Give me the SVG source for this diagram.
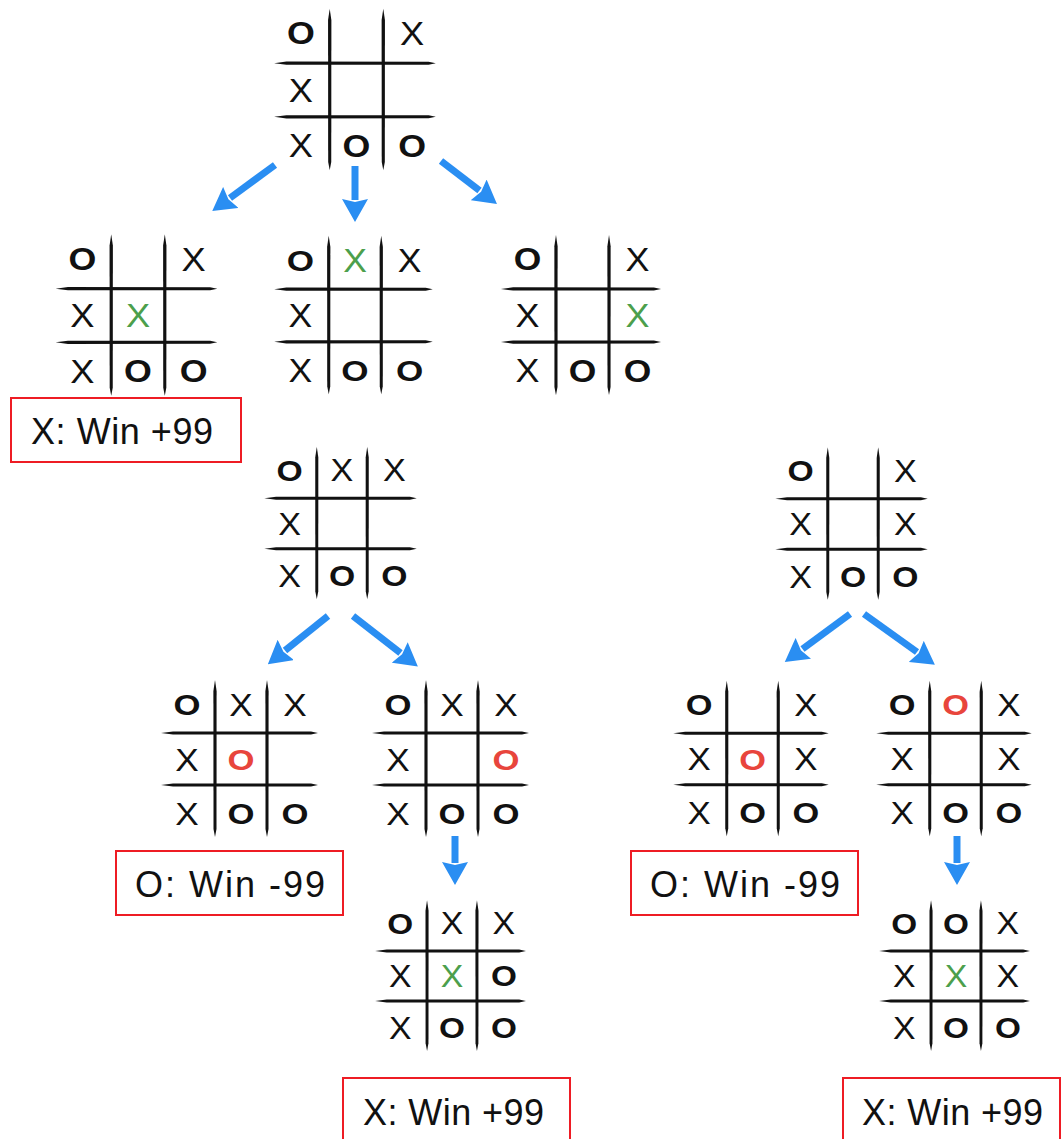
<svg xmlns="http://www.w3.org/2000/svg" width="1062" height="1139" viewBox="0 0 1062 1139">
<style>
.o{font-family:"Liberation Sans",Arial,sans-serif;font-weight:bold;font-size:31px;text-anchor:middle;fill:#111}
.x{font-family:"Liberation Sans",Arial,sans-serif;font-size:32px;text-anchor:middle;fill:#111}
.g{fill:#4c9f4c}
.r{fill:#e8453c}
.lbl{font-family:"Liberation Sans",Arial,sans-serif;font-size:36px;fill:#111}
.box{fill:#fff;stroke:#ee1c24;stroke-width:2}
.arr{stroke:#2a8ef2;stroke-width:7;fill:none;marker-end:url(#ah)}
</style>
<defs>
<marker id="ah" markerUnits="userSpaceOnUse" viewBox="0 0 23 26" markerWidth="23" markerHeight="26" refX="1" refY="13" orient="auto">
<path d="M0,0 L23,13 L0,26 L3,13 Z" fill="#2a8ef2"/>
</marker>
<g id="grid" fill="#111">
<path d="M-80,-26 L-68,-27.6 L70,-27.5 L77,-26 L70,-24.5 L-68,-24.4 Z"/>
<path d="M-80,26 L-68,24.4 L70,24.5 L77,26 L70,27.5 L-68,27.6 Z"/>
<path d="M-26,-79 L-27.6,-68 L-27.5,70 L-26,78 L-24.5,70 L-24.4,-68 Z"/>
<path d="M26,-79 L24.4,-68 L24.5,70 L26,78 L27.5,70 L27.6,-68 Z"/>
</g>
</defs>
<rect width="1062" height="1139" fill="#fff"/>

<g id="connectors">
<line class="arr" x1="275" y1="165" x2="230" y2="198"/>
<line class="arr" x1="355" y1="166" x2="355" y2="200"/>
<line class="arr" x1="441" y1="161" x2="479.5" y2="190.5"/>
<line class="arr" x1="328" y1="616" x2="285" y2="650.5"/>
<line class="arr" x1="353" y1="616" x2="400.5" y2="653"/>
<line class="arr" x1="455" y1="836" x2="455" y2="863"/>
<line class="arr" x1="850" y1="614" x2="802.5" y2="649"/>
<line class="arr" x1="864" y1="614" x2="917" y2="652"/>
<line class="arr" x1="957" y1="836" x2="957" y2="863"/>
</g>

<g id="board-a" transform="translate(356.5,90) scale(1.03)">
<use href="#grid"/>
<text class="o" transform="translate(-54,-55) scale(1.12,0.97)" y="11.1">O</text><text class="x" transform="translate(54,-55) scale(1.1,1)" y="11.5">X</text>
<text class="x" transform="translate(-54,0) scale(1.1,1)" y="11.5">X</text>
<text class="x" transform="translate(-54,54) scale(1.1,1)" y="11.5">X</text><text class="o" transform="translate(0,54) scale(1.12,0.97)" y="11.1">O</text><text class="o" transform="translate(54,54) scale(1.12,0.97)" y="11.1">O</text>
</g>

<g id="board-b" transform="translate(138,315.5) scale(1.03)">
<use href="#grid"/>
<text class="o" transform="translate(-54,-55) scale(1.12,0.97)" y="11.1">O</text><text class="x" transform="translate(54,-55) scale(1.1,1)" y="11.5">X</text>
<text class="x" transform="translate(-54,0) scale(1.1,1)" y="11.5">X</text><text class="x g" transform="translate(0,0) scale(1.1,1)" y="11.5">X</text>
<text class="x" transform="translate(-54,54) scale(1.1,1)" y="11.5">X</text><text class="o" transform="translate(0,54) scale(1.12,0.97)" y="11.1">O</text><text class="o" transform="translate(54,54) scale(1.12,0.97)" y="11.1">O</text>
</g>

<g id="board-c" transform="translate(355,315.5) scale(1.01)">
<use href="#grid"/>
<text class="o" transform="translate(-54,-55) scale(1.12,0.97)" y="11.1">O</text><text class="x g" transform="translate(0,-55) scale(1.1,1)" y="11.5">X</text><text class="x" transform="translate(54,-55) scale(1.1,1)" y="11.5">X</text>
<text class="x" transform="translate(-54,0) scale(1.1,1)" y="11.5">X</text>
<text class="x" transform="translate(-54,54) scale(1.1,1)" y="11.5">X</text><text class="o" transform="translate(0,54) scale(1.12,0.97)" y="11.1">O</text><text class="o" transform="translate(54,54) scale(1.12,0.97)" y="11.1">O</text>
</g>

<g id="board-d" transform="translate(582.5,315.5) scale(1.02)">
<use href="#grid"/>
<text class="o" transform="translate(-54,-55) scale(1.12,0.97)" y="11.1">O</text><text class="x" transform="translate(54,-55) scale(1.1,1)" y="11.5">X</text>
<text class="x" transform="translate(-54,0) scale(1.1,1)" y="11.5">X</text><text class="x g" transform="translate(54,0) scale(1.1,1)" y="11.5">X</text>
<text class="x" transform="translate(-54,54) scale(1.1,1)" y="11.5">X</text><text class="o" transform="translate(0,54) scale(1.12,0.97)" y="11.1">O</text><text class="o" transform="translate(54,54) scale(1.12,0.97)" y="11.1">O</text>
</g>

<g id="board-e" transform="translate(342,523.5) scale(0.97)">
<use href="#grid"/>
<text class="o" transform="translate(-54,-55) scale(1.12,0.97)" y="11.1">O</text><text class="x" transform="translate(0,-55) scale(1.1,1)" y="11.5">X</text><text class="x" transform="translate(54,-55) scale(1.1,1)" y="11.5">X</text>
<text class="x" transform="translate(-54,0) scale(1.1,1)" y="11.5">X</text>
<text class="x" transform="translate(-54,54) scale(1.1,1)" y="11.5">X</text><text class="o" transform="translate(0,54) scale(1.12,0.97)" y="11.1">O</text><text class="o" transform="translate(54,54) scale(1.12,0.97)" y="11.1">O</text>
</g>

<g id="board-f" transform="translate(853,524) scale(0.97)">
<use href="#grid"/>
<text class="o" transform="translate(-54,-55) scale(1.12,0.97)" y="11.1">O</text><text class="x" transform="translate(54,-55) scale(1.1,1)" y="11.5">X</text>
<text class="x" transform="translate(-54,0) scale(1.1,1)" y="11.5">X</text><text class="x" transform="translate(54,0) scale(1.1,1)" y="11.5">X</text>
<text class="x" transform="translate(-54,54) scale(1.1,1)" y="11.5">X</text><text class="o" transform="translate(0,54) scale(1.12,0.97)" y="11.1">O</text><text class="o" transform="translate(54,54) scale(1.12,0.97)" y="11.1">O</text>
</g>

<g id="board-g" transform="translate(241,759)">
<use href="#grid"/>
<text class="o" transform="translate(-54,-55) scale(1.12,0.97)" y="11.1">O</text><text class="x" transform="translate(0,-55) scale(1.1,1)" y="11.5">X</text><text class="x" transform="translate(54,-55) scale(1.1,1)" y="11.5">X</text>
<text class="x" transform="translate(-54,0) scale(1.1,1)" y="11.5">X</text><text class="o r" transform="translate(0,0) scale(1.12,0.97)" y="11.1">O</text>
<text class="x" transform="translate(-54,54) scale(1.1,1)" y="11.5">X</text><text class="o" transform="translate(0,54) scale(1.12,0.97)" y="11.1">O</text><text class="o" transform="translate(54,54) scale(1.12,0.97)" y="11.1">O</text>
</g>

<g id="board-h" transform="translate(452,759)">
<use href="#grid"/>
<text class="o" transform="translate(-54,-55) scale(1.12,0.97)" y="11.1">O</text><text class="x" transform="translate(0,-55) scale(1.1,1)" y="11.5">X</text><text class="x" transform="translate(54,-55) scale(1.1,1)" y="11.5">X</text>
<text class="x" transform="translate(-54,0) scale(1.1,1)" y="11.5">X</text><text class="o r" transform="translate(54,0) scale(1.12,0.97)" y="11.1">O</text>
<text class="x" transform="translate(-54,54) scale(1.1,1)" y="11.5">X</text><text class="o" transform="translate(0,54) scale(1.12,0.97)" y="11.1">O</text><text class="o" transform="translate(54,54) scale(1.12,0.97)" y="11.1">O</text>
</g>

<g id="board-i" transform="translate(752.5,759) scale(0.99)">
<use href="#grid"/>
<text class="o" transform="translate(-54,-55) scale(1.12,0.97)" y="11.1">O</text><text class="x" transform="translate(54,-55) scale(1.1,1)" y="11.5">X</text>
<text class="x" transform="translate(-54,0) scale(1.1,1)" y="11.5">X</text><text class="o r" transform="translate(0,0) scale(1.12,0.97)" y="11.1">O</text><text class="x" transform="translate(54,0) scale(1.1,1)" y="11.5">X</text>
<text class="x" transform="translate(-54,54) scale(1.1,1)" y="11.5">X</text><text class="o" transform="translate(0,54) scale(1.12,0.97)" y="11.1">O</text><text class="o" transform="translate(54,54) scale(1.12,0.97)" y="11.1">O</text>
</g>

<g id="board-j" transform="translate(955.5,759) scale(0.99)">
<use href="#grid"/>
<text class="o" transform="translate(-54,-55) scale(1.12,0.97)" y="11.1">O</text><text class="o r" transform="translate(0,-55) scale(1.12,0.97)" y="11.1">O</text><text class="x" transform="translate(54,-55) scale(1.1,1)" y="11.5">X</text>
<text class="x" transform="translate(-54,0) scale(1.1,1)" y="11.5">X</text><text class="x" transform="translate(54,0) scale(1.1,1)" y="11.5">X</text>
<text class="x" transform="translate(-54,54) scale(1.1,1)" y="11.5">X</text><text class="o" transform="translate(0,54) scale(1.12,0.97)" y="11.1">O</text><text class="o" transform="translate(54,54) scale(1.12,0.97)" y="11.1">O</text>
</g>

<g id="board-k" transform="translate(452,976) scale(0.96)">
<use href="#grid"/>
<text class="o" transform="translate(-54,-55) scale(1.12,0.97)" y="11.1">O</text><text class="x" transform="translate(0,-55) scale(1.1,1)" y="11.5">X</text><text class="x" transform="translate(54,-55) scale(1.1,1)" y="11.5">X</text>
<text class="x" transform="translate(-54,0) scale(1.1,1)" y="11.5">X</text><text class="x g" transform="translate(0,0) scale(1.1,1)" y="11.5">X</text><text class="o" transform="translate(54,0) scale(1.12,0.97)" y="11.1">O</text>
<text class="x" transform="translate(-54,54) scale(1.1,1)" y="11.5">X</text><text class="o" transform="translate(0,54) scale(1.12,0.97)" y="11.1">O</text><text class="o" transform="translate(54,54) scale(1.12,0.97)" y="11.1">O</text>
</g>

<g id="board-l" transform="translate(956,976) scale(0.96)">
<use href="#grid"/>
<text class="o" transform="translate(-54,-55) scale(1.12,0.97)" y="11.1">O</text><text class="o" transform="translate(0,-55) scale(1.12,0.97)" y="11.1">O</text><text class="x" transform="translate(54,-55) scale(1.1,1)" y="11.5">X</text>
<text class="x" transform="translate(-54,0) scale(1.1,1)" y="11.5">X</text><text class="x g" transform="translate(0,0) scale(1.1,1)" y="11.5">X</text><text class="x" transform="translate(54,0) scale(1.1,1)" y="11.5">X</text>
<text class="x" transform="translate(-54,54) scale(1.1,1)" y="11.5">X</text><text class="o" transform="translate(0,54) scale(1.12,0.97)" y="11.1">O</text><text class="o" transform="translate(54,54) scale(1.12,0.97)" y="11.1">O</text>
</g>

<g id="label-1"><rect class="box" x="11" y="398" width="230" height="64"/><text class="lbl" x="31" y="444" textLength="182" lengthAdjust="spacing">X: Win +99</text></g>
<g id="label-2"><rect class="box" x="116" y="851" width="227" height="64"/><text class="lbl" x="135" y="897" textLength="190" lengthAdjust="spacing">O: Win -99</text></g>
<g id="label-3"><rect class="box" x="343" y="1078" width="227" height="80"/><text class="lbl" x="363" y="1125" textLength="181" lengthAdjust="spacing">X: Win +99</text></g>
<g id="label-4"><rect class="box" x="631" y="851" width="227" height="64"/><text class="lbl" x="650" y="897" textLength="190" lengthAdjust="spacing">O: Win -99</text></g>
<g id="label-5"><rect class="box" x="843" y="1078" width="217" height="80"/><text class="lbl" x="862" y="1125" textLength="181" lengthAdjust="spacing">X: Win +99</text></g>
</svg>
